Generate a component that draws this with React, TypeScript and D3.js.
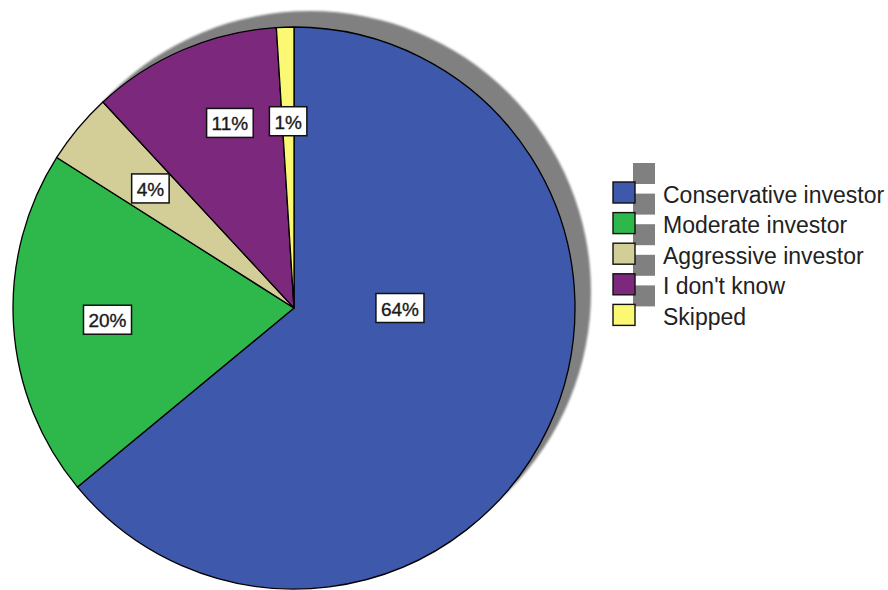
import React from "react";
import * as d3 from "d3";

const categories = [
  "Conservative investor",
  "Moderate investor",
  "Aggressive investor",
  "I don't know",
  "Skipped",
];
const percents = [64.0, 20.0, 4.1, 10.9, 1.0];
const labels = ["64%", "20%", "4%", "11%", "1%"];
const colors = ["#3e58ac", "#2eb84b", "#d3ce97", "#7c287d", "#fbf873"];

// layout
const W = 888;
const H = 590;
const CX = 294;
const CY = 308;
const R = 281;
const SHADOW_DX = 16;
const SHADOW_DY = -16;
const LABEL_R = 0.665;
const LABEL_OVERRIDES: Record<string, { angle: number; r: number }> = {
  "Conservative investor": { angle: 90, r: 0.377 },
  "I don't know": { angle: 340.9, r: 0.697 },
};
const FONT = "'Liberation Sans', Arial, sans-serif";
const LABEL_FONT_SIZE = 19;
const LEGEND_FONT_SIZE = 23;
const LEG_X = 613;
const LEG_Y0 = 182;
const LEG_STEP = 30.6;
const SW_W = 22;
const SW_H = 21;

function measure(text: string, size: number): number {
  try {
    const c = document.createElement("canvas");
    const ctx = c.getContext("2d");
    if (ctx) {
      ctx.font = `${size}px 'Liberation Sans', Arial, sans-serif`;
      return ctx.measureText(text).width;
    }
  } catch (e) {}
  return text.length * size * 0.6;
}

export default function App() {
  const data = categories.map((c, i) => ({
    cat: c,
    value: percents[i],
    label: labels[i],
    color: colors[i],
  }));
  const pie = d3
    .pie<any>()
    .sort(null)
    .value((d) => d.value)
    .startAngle(0)
    .endAngle(2 * Math.PI);
  const arcs = pie(data);
  const arc = d3.arc<any>().innerRadius(0).outerRadius(R);

  const legendY = d3
    .scaleLinear()
    .domain([0, 1])
    .range([LEG_Y0, LEG_Y0 + LEG_STEP]);

  return (
    <svg
      width={W}
      height={H}
      style={{ position: "fixed", left: 0, top: 0, background: "#fff" }}
    >
      <defs>
        <filter id="blur" x="-10%" y="-10%" width="120%" height="120%">
          <feGaussianBlur stdDeviation="0.8" />
        </filter>
      </defs>
      {/* pie shadow */}
      <circle
        cx={CX + SHADOW_DX}
        cy={CY + SHADOW_DY}
        r={R}
        fill="#808080"
        filter="url(#blur)"
      />
      <g transform={`translate(${CX},${CY})`}>
        {arcs.map((a, i) => (
          <path
            key={i}
            d={arc(a) as string}
            fill={a.data.color}
            stroke="#000"
            strokeWidth={1.3}
            strokeLinejoin="round"
          />
        ))}
        {arcs.map((a, i) => {
          const ov = LABEL_OVERRIDES[a.data.cat];
          const ang = ov ? (ov.angle * Math.PI) / 180 : (a.startAngle + a.endAngle) / 2;
          const rr = (ov ? ov.r : LABEL_R) * R;
          const x = Math.sin(ang) * rr;
          const y = -Math.cos(ang) * rr;
          const tw = measure(a.data.label, LABEL_FONT_SIZE);
          const bw = tw + 10;
          const bh = 29;
          return (
            <g key={"l" + i} transform={`translate(${x},${y})`}>
              <rect
                x={-bw / 2}
                y={-bh / 2}
                width={bw}
                height={bh}
                fill="#fff"
                stroke="#111"
                strokeWidth={1.5}
              />
              <text
                x={0}
                y={1}
                textAnchor="middle"
                dominantBaseline="central"
                fontFamily={FONT}
                fontSize={LABEL_FONT_SIZE}
                fill="#1a1a1a"
                stroke="#1a1a1a"
                strokeWidth={0.35}
              >
                {a.data.label}
              </text>
            </g>
          );
        })}
      </g>
      {/* legend */}
      <g>
        {data.map((d, i) => (
          <rect
            key={"ls" + i}
            x={LEG_X + 20}
            y={legendY(i) - 19}
            width={SW_W}
            height={SW_H}
            fill="#808080"
          />
        ))}
        {data.map((d, i) => (
          <g key={"li" + i}>
            <rect
              x={LEG_X}
              y={legendY(i)}
              width={SW_W}
              height={SW_H}
              fill={d.color}
              stroke="#111"
              strokeWidth={1.4}
            />
            <text
              x={663}
              y={legendY(i) + SW_H / 2 + 2}
              dominantBaseline="central"
              fontFamily={FONT}
              fontSize={LEGEND_FONT_SIZE}
              fill="#222"
            >
              {d.cat}
            </text>
          </g>
        ))}
      </g>
    </svg>
  );
}
